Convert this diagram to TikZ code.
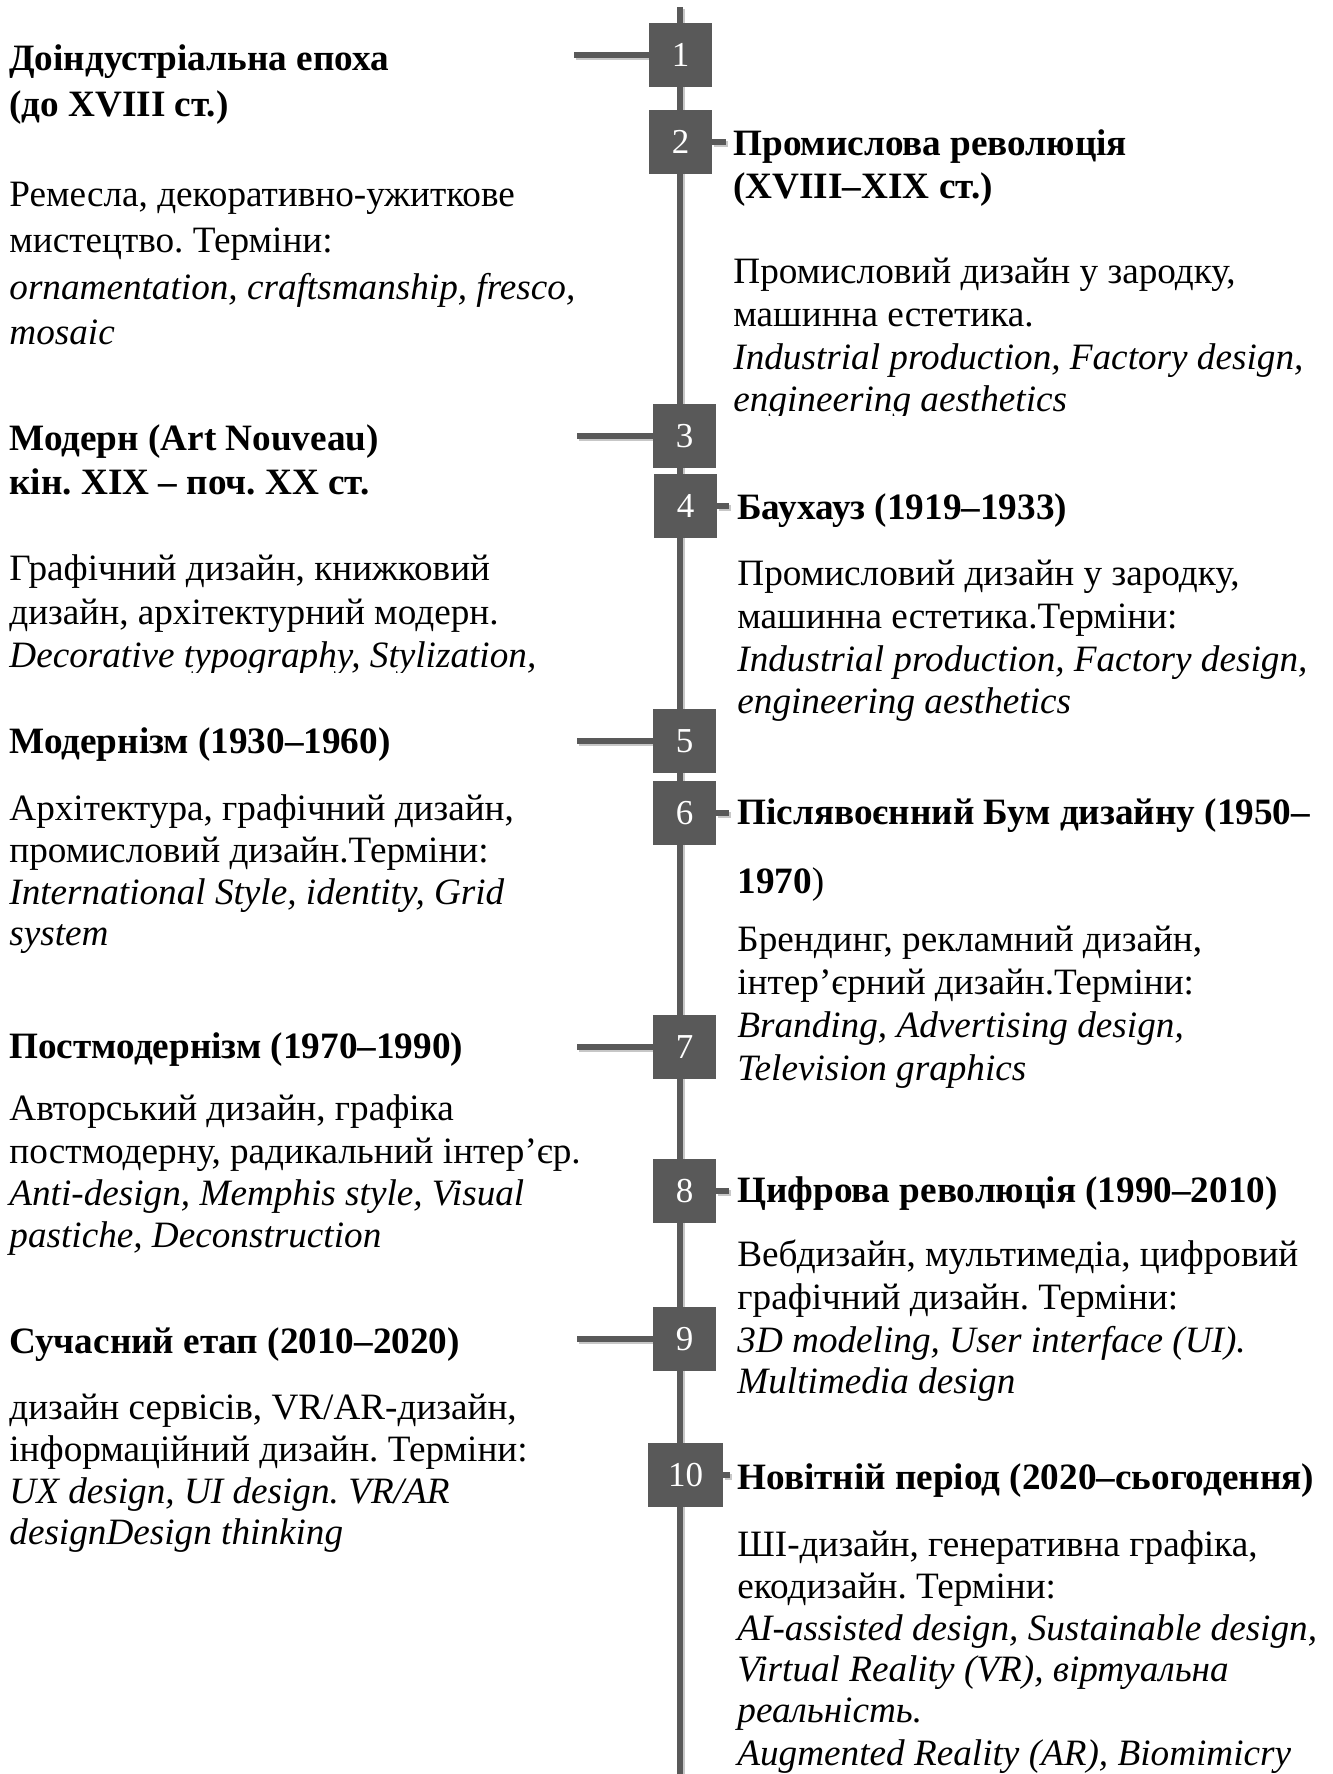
\documentclass[tikz,border=0pt]{standalone}
\usepackage{fontspec}
\setmainfont{Liberation Serif}
\definecolor{tlgray}{HTML}{595959}
\begin{document}
\frenchspacing
\begin{tikzpicture}[x=0.5pt,y=-0.5pt,
  tline/.style={line width=3pt, draw=tlgray,
    preaction={draw=black!22, line width=3pt, transform canvas={xshift=1pt,yshift=-1.2pt}}},
  numbox/.style={fill=tlgray, text=white, inner sep=0pt, minimum width=31.5pt, minimum height=32pt,
    font=\fontsize{17.5pt}{20pt}\selectfont},
  txt/.style={anchor=base west, inner sep=0pt, font=\fontsize{18.6pt}{21pt}\selectfont\frenchspacing},
  hd/.style={txt, font=\fontsize{18.6pt}{21pt}\selectfont\bfseries\frenchspacing},
  it/.style={txt, font=\fontsize{18.6pt}{21pt}\selectfont\itshape\frenchspacing}]
\useasboundingbox (0,0) rectangle (1333,1774);

% timeline
\coordinate (top) at (680,7);
\coordinate (bot) at (680,1790);
\draw[tline] (top) -- (bot);

% boxes
\node[numbox] (b1) at (680.5,55) {1};
\node[numbox] (b2) at (680.5,142) {2};
\node[numbox] (b3) at (684.5,436) {3};
\node[numbox] (b4) at (685.5,506) {4};
\node[numbox] (b5) at (684.5,741) {5};
\node[numbox] (b6) at (684.5,813) {6};
\node[numbox] (b7) at (684.5,1047) {7};
\node[numbox] (b8) at (684.5,1191) {8};
\node[numbox] (b9) at (684.5,1339) {9};
\node[numbox, minimum width=37.5pt] (b10) at (685.5,1475) {10};

% connector end points
\coordinate (c1) at (574,55);
\coordinate (c3) at (577,436);
\coordinate (c5) at (577,741);
\coordinate (c7) at (577,1047);
\coordinate (c9) at (577,1339);
\coordinate (d2) at (726,142);
\coordinate (d4) at (729,506);
\coordinate (d6) at (729,813);
\coordinate (d8) at (729,1191);
\coordinate (d10) at (730,1475);

\draw[tline] (c1) -- (b1.west);
\draw[tline] (c3) -- (b3.west);
\draw[tline] (c5) -- (b5.west);
\draw[tline] (c7) -- (b7.west);
\draw[tline] (c9) -- (b9.west);
\draw[tline] (b2.east) -- (d2);
\draw[tline] (b4.east) -- (d4);
\draw[tline] (b6.east) -- (d6);
\draw[tline] (b8.east) -- (d8);
\draw[tline] (b10.east) -- (d10);

% redraw boxes on top
\node[numbox] at (b1) {1};
\node[numbox] at (b2) {2};
\node[numbox] at (b3) {3};
\node[numbox] at (b4) {4};
\node[numbox] at (b5) {5};
\node[numbox] at (b6) {6};
\node[numbox] at (b7) {7};
\node[numbox] at (b8) {8};
\node[numbox] at (b9) {9};
\node[numbox, minimum width=37.5pt] at (b10) {10};

% ---------- left column ----------
\node[hd] (h1a) at (9,70) {Доіндустріальна епоха};
\node[hd] (h1b) at (9,116) {(до XVIII ст.)};
\node[txt] (t1a) at (9,206) {Ремесла, декоративно-ужиткове};
\node[txt] (t1b) at (9,252) {мистецтво. Терміни:};
\node[it] (t1c) at (9,299) {ornamentation, craftsmanship, fresco,};
\node[it] (t1d) at (9,344) {mosaic};

\node[hd] (h3a) at (9,450) {Модерн (Art Nouveau)};
\node[hd] (h3b) at (9,494) {кін. XIX – поч. XX ст.};
\node[txt] (t3a) at (9,580) {Графічний дизайн, книжковий};
\node[txt] (t3b) at (9,624) {дизайн, архітектурний модерн.};
\begin{scope}
\clip (0,600) rectangle (700,672);
\node[it] (t3c) at (9,667) {Decorative typography, Stylization,};
\end{scope}

\node[hd] (h5a) at (9,753) {Модернізм (1930–1960)};
\node[txt] (t5a) at (9,820) {Архітектура, графічний дизайн,};
\node[txt] (t5b) at (9,862) {промисловий дизайн.Терміни:};
\node[it] (t5c) at (9,904) {International Style, identity, Grid};
\node[it] (t5d) at (9,945) {system};

\node[hd] (h7a) at (9,1058) {Постмодернізм (1970–1990)};
\node[txt] (t7a) at (9,1120) {Авторський дизайн, графіка};
\node[txt] (t7b) at (9,1163) {постмодерну, радикальний інтер’єр.};
\node[it] (t7c) at (9,1205) {Anti-design, Memphis style, Visual};
\node[it] (t7d) at (9,1247) {pastiche, Deconstruction};

\node[hd] (h9a) at (9,1353) {Сучасний етап (2010–2020)};
\node[txt] (t9a) at (9,1419) {дизайн сервісів, VR/AR-дизайн,};
\node[txt] (t9b) at (9,1461) {інформаційний дизайн. Терміни:};
\node[it] (t9c) at (9,1503) {UX design, UI design. VR/AR};
\node[it] (t9d) at (9,1544) {designDesign thinking};

% ---------- right column ----------
\node[hd] (h2a) at (733,155) {Промислова революція};
\node[hd] (h2b) at (733,198) {(XVIII–XIX ст.)};
\node[txt] (t2a) at (733,283) {Промисловий дизайн у зародку,};
\node[txt] (t2b) at (733,326) {машинна естетика.};
\node[it] (t2c) at (733,369) {Industrial production, Factory design,};
\begin{scope}
\clip (720,380) rectangle (1333,415);
\node[it] (t2d) at (733,411) {engineering aesthetics};
\end{scope}

\node[hd] (h4a) at (737,519) {Баухауз (1919–1933)};
\node[txt] (t4a) at (737,585) {Промисловий дизайн у зародку,};
\node[txt] (t4b) at (737,628) {машинна естетика.Терміни:};
\node[it] (t4c) at (737,671) {Industrial production, Factory design,};
\node[it] (t4d) at (737,713) {engineering aesthetics};

\node[hd] (h6a) at (737,824) {Післявоєнний Бум дизайну (1950–};
\node[hd] (h6b) at (737,893) {1970\textmd{)}};
\node[txt] (t6a) at (737,951) {Брендинг, рекламний дизайн,};
\node[txt] (t6b) at (737,994) {інтер’єрний дизайн.Терміни:};
\node[it] (t6c) at (737,1037) {Branding, Advertising design,};
\node[it] (t6d) at (737,1080) {Television graphics};

\node[hd] (h8a) at (737,1202) {Цифрова революція (1990–2010)};
\node[txt] (t8a) at (737,1266) {Вебдизайн, мультимедіа, цифровий};
\node[txt] (t8b) at (737,1309) {графічний дизайн. Терміни:};
\node[it] (t8c) at (737,1352) {3D modeling, User interface (UI).};
\node[it] (t8d) at (737,1393) {Multimedia design};

\node[hd] (h10a) at (737,1489) {Новітній період (2020–сьогодення)};
\node[txt] (t10a) at (737,1556) {ШІ-дизайн, генеративна графіка,};
\node[txt] (t10b) at (737,1598) {екодизайн. Терміни:};
\node[it] (t10c) at (737,1640) {AI-assisted design, Sustainable design,};
\node[it] (t10d) at (737,1681) {Virtual Reality (VR), віртуальна};
\node[it] (t10e) at (737,1722) {реальність.};
\node[it] (t10f) at (737,1765) {Augmented Reality (AR), Biomimicry};
\end{tikzpicture}
\end{document}
